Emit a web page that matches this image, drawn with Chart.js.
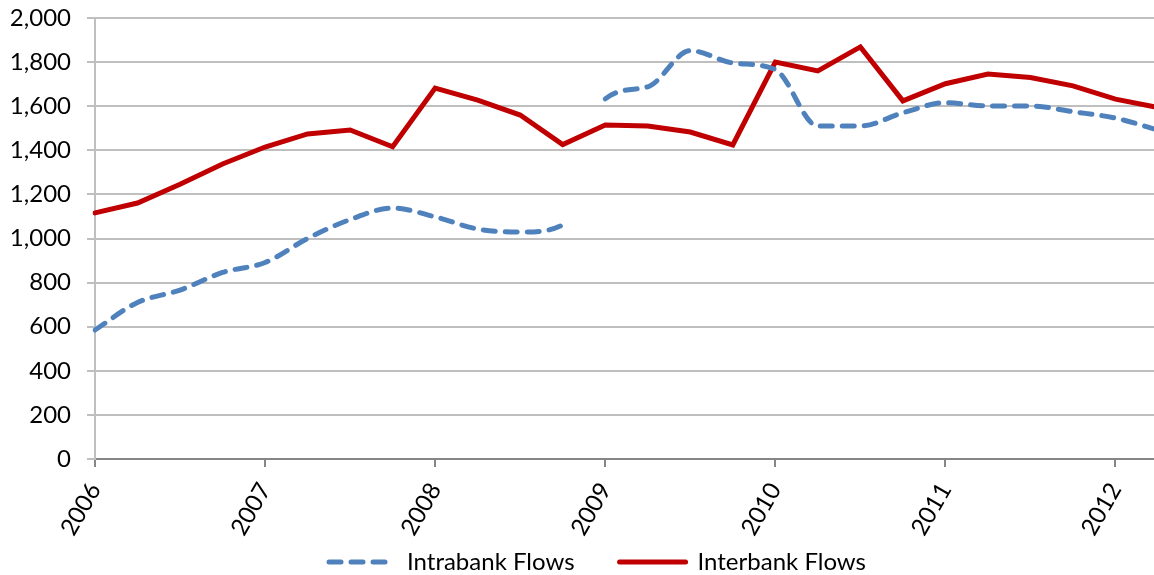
<!DOCTYPE html>
<html>
<head>
<meta charset="utf-8">
<script src="https://cdn.jsdelivr.net/npm/chart.js@4/dist/chart.umd.min.js"></script>
<style>
  html, body { margin: 0; padding: 0; background: #fff; overflow: hidden; }
  #wrap { width: 1170px; height: 575px; }
</style>
</head>
<body>
<div id="wrap"><canvas id="flowChart"></canvas></div>
<script>
// quarterly observations, Q1 2006 .. Q2 2012
const quarters = [
  '2006 Q1', '2006 Q2', '2006 Q3', '2006 Q4',
  '2007 Q1', '2007 Q2', '2007 Q3', '2007 Q4',
  '2008 Q1', '2008 Q2', '2008 Q3', '2008 Q4',
  '2009 Q1', '2009 Q2', '2009 Q3', '2009 Q4',
  '2010 Q1', '2010 Q2', '2010 Q3', '2010 Q4',
  '2011 Q1', '2011 Q2', '2011 Q3', '2011 Q4',
  '2012 Q1', '2012 Q2'
];
const yearTicks = ['2006', '2007', '2008', '2009', '2010', '2011', '2012'];

const intrabank = [
  585, 710, 766, 846, 891, 1000, 1086, 1138,
  1098, 1043, 1029, 1062,
  1633, 1688, 1852, 1796, 1766, 1510, 1510, 1570,
  1616, 1601, 1601, 1575, 1546, 1492
];
// series is broken between 2008 Q4 and 2009 Q1
const intrabankBreakAfter = 11;

const interbank = [
  1116, 1161, 1246, 1338, 1415, 1474, 1492, 1416,
  1682, 1628, 1560, 1426, 1515, 1510, 1483, 1424,
  1800, 1760, 1869, 1624, 1702, 1746, 1730, 1692,
  1632, 1594
];

const yTicks = [0, 200, 400, 600, 800, 1000, 1200, 1400, 1600, 1800, 2000];

const blue = '#4F81BD';
const red = '#C00000';
const gridGray = '#BFBFBF';
const font = { family: 'Lato', size: 24 };

// nudge the legend to where the original puts it
const legendShift = {
  id: 'legendShift',
  afterLayout(chart) {
    const lg = chart.legend;
    lg.left += 13; lg.right += 13;
    lg.top += 9; lg.bottom += 9;
  }
};

document.addEventListener('DOMContentLoaded', function () {
  const ctx = document.getElementById('flowChart').getContext('2d');

  new Chart(ctx, {
    type: 'line',
    data: {
      labels: quarters,
      datasets: [{
        label: 'Intrabank Flows',
        data: intrabank,
        borderColor: blue,
        backgroundColor: blue,
        borderWidth: 5,
        borderDash: [12, 10],
        borderCapStyle: 'round',
        cubicInterpolationMode: 'monotone',
        pointRadius: 0,
        fill: false,
        segment: {
          borderColor: c => c.p0DataIndex === intrabankBreakAfter ? 'rgba(0,0,0,0)' : blue
        }
      },
      {
        label: 'Interbank Flows',
        data: interbank,
        borderColor: red,
        backgroundColor: red,
        borderWidth: 5,
        borderCapStyle: 'round',
        tension: 0,
        pointRadius: 0,
        fill: false
      }]
    },
    options: {
      responsive: true,
      maintainAspectRatio: false,
      animation: false,
      layout: {
        padding: { top: 18, right: 12, left: 11, bottom: 0 }
      },
      plugins: {
        tooltip: { enabled: false },
        legend: {
          position: 'bottom',
          labels: {
            usePointStyle: true,
            pointStyle: 'line',
            pointStyleWidth: 66,
            boxHeight: 5,
            padding: 2,
            color: '#000',
            font: font,
            generateLabels: chart => {
              const items = Chart.defaults.plugins.legend.labels.generateLabels(chart);
              items.forEach((item, i) => {
                const ds = chart.data.datasets[i];
                item.lineWidth = ds.borderWidth;
                item.lineCap = ds.borderCapStyle;
                item.lineDash = ds.borderDash || [];
                item.strokeStyle = ds.borderColor;
              });
              // widen the gap between the two entries
              items[0].text += '       ';
              return items;
            }
          }
        }
      },
      scales: {
        x: {
          ticks: {
            autoSkip: false,
            minRotation: 60,
            maxRotation: 60,
            padding: 11,
            color: '#000',
            font: font,
            callback: function (value, index) {
              const year = quarters[index].slice(0, 4);
              return quarters[index].endsWith('Q1') && yearTicks.includes(year) ? year : null;
            }
          },
          grid: {
            drawOnChartArea: false,
            drawTicks: true,
            tickLength: 8,
            tickColor: '#868686',
            lineWidth: 2
          },
          border: { color: '#868686', width: 2 },
          afterFit: scale => { scale.height = 80; }
        },
        y: {
          min: 0,
          max: 2000,
          afterBuildTicks: scale => { scale.ticks = yTicks.map(v => ({ value: v })); },
          ticks: {
            padding: 16,
            color: '#000',
            font: font,
            callback: v => v.toLocaleString('en-US')
          },
          grid: {
            color: gridGray,
            lineWidth: 2,
            tickLength: 8,
            tickColor: gridGray
          },
          border: { color: gridGray, width: 2 },
          afterFit: scale => {
            scale.width = 84;
            scale.paddingTop = 0;
            scale.paddingBottom = 0;
          }
        }
      }
    },
    plugins: [legendShift]
  });
});
</script>
</body>
</html>
